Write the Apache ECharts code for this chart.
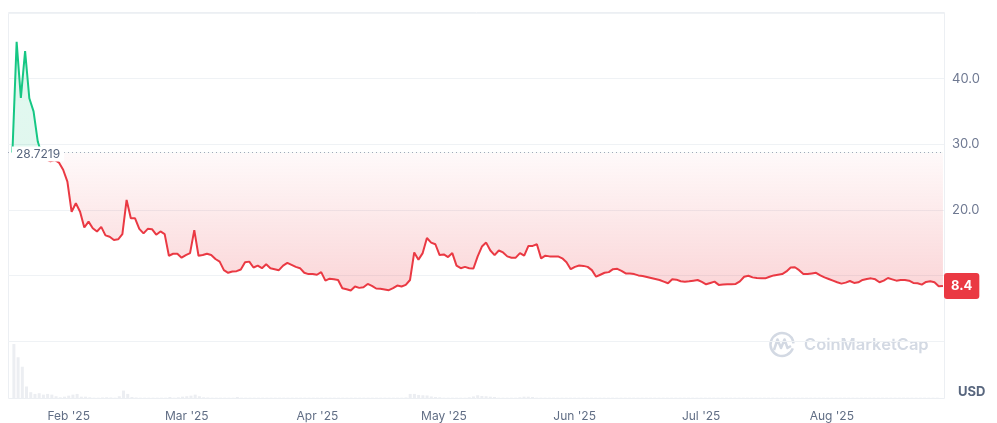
<!DOCTYPE html>
<html>
<head>
<meta charset="utf-8">
<script src="https://cdn.jsdelivr.net/npm/echarts@6/dist/echarts.min.js"></script>
<style>
html,body{margin:0;padding:0;background:#fff;}
#chart{width:997px;height:423px;}
</style>
</head>
<body>
<div id="chart"></div>
<script>
// ---- data (daily, starting 2025-01-19) ----
const startDate = [2025, 0, 19];
const baselinePrice = 28.7219;
const lastPrice = 8.4;
const priceValues = [
  28.72, 45.6, 37.05, 44.2, 37.0, 35.0, 30.4, 28.3, 27.7, 27.4, 27.6, 27.2, 26.1,
  24.3, 19.7, 21.0, 19.7, 17.3, 18.2, 17.2, 16.7, 17.4, 16.1, 15.9, 15.4, 15.5, 16.3,
  21.5, 18.7, 18.7, 17.1, 16.4, 17.1, 17.05, 16.2, 16.7, 16.3, 13.0, 13.3, 13.3, 12.7,
  13.1, 13.4, 16.9, 13.0, 13.1, 13.3, 13.1, 12.5, 12.1, 10.8, 10.4, 10.6, 10.65, 10.9,
  12.0, 12.1, 11.2, 11.5, 11.1, 11.7, 11.1, 10.95, 10.8, 11.5, 11.9, 11.6, 11.3, 11.1,
  10.4, 10.2, 10.2, 10.1, 10.5, 9.2, 9.5, 9.4, 9.3, 8.05, 7.9, 7.7, 8.3, 8.1, 8.2,
  8.7, 8.4, 8.0, 7.95, 7.85, 7.75, 8.05, 8.45, 8.3, 8.55, 9.3, 13.5, 12.4, 13.4,
  15.7, 15.0, 14.75, 13.1, 13.2, 12.8, 13.4, 11.5, 11.1, 11.3, 11.1, 11.05, 12.9, 14.4,
  15.0, 13.8, 13.1, 13.8, 13.5, 12.9, 12.7, 12.7, 13.4, 13.0, 14.5, 14.5, 14.75, 12.6,
  13.0, 12.9, 12.9, 12.9, 12.6, 12.0, 10.95, 11.3, 11.5, 11.45, 11.3, 10.8, 9.8, 10.1,
  10.4, 10.5, 10.95, 11.0, 10.7, 10.3, 10.3, 10.2, 10.0, 9.9, 9.75, 9.6, 9.45, 9.3,
  9.05, 8.8, 9.4, 9.35, 9.1, 9.05, 9.1, 9.2, 9.3, 9.0, 8.65, 8.85, 9.05, 8.55,
  8.6, 8.65, 8.65, 8.7, 9.1, 9.8, 9.95, 9.7, 9.6, 9.55, 9.55, 9.8, 10.0, 10.1,
  10.2, 10.6, 11.2, 11.25, 10.8, 10.2, 10.2, 10.3, 10.4, 10.0, 9.7, 9.45, 9.2, 8.95,
  8.75, 8.9, 9.15, 8.85, 8.95, 9.3, 9.45, 9.55, 9.4, 8.95, 9.2, 9.6, 9.4, 9.2,
  9.3, 9.3, 9.2, 8.85, 8.8, 8.6, 9.0, 9.1, 8.95, 8.35, 8.4
];
const volumeValues = [
  53, 40, 30.7, 11.3, 5.7, 4, 4.7, 3.3, 4, 3.3, 1.7, 0.7, 1.3,
  2.3, 3.3, 4, 1.3, 1.3, 0.7, 0.3, 0.3, 0.5, 0.7, 0.5, 0.3, 1.7, 7.3,
  4, 1.0, 0.5, 0.3, 0.3, 0.3, 0.3, 0.3, 0.3, 0.3, 1.0, 0.3, 0.7, 1.3,
  1.7, 2.3, 3.3, 1.7, 0.7, 0.5, 0.3, 0.3, 0.3, 0.3, 0.3, 0.3, 1.0, 0.3,
  0.3, 0.3, 0.3, 0.3, 0.3, 0.3, 0.3, 0.3, 0.3, 0.3, 0.3, 0.3, 0.3, 0.3,
  0.3, 0.3, 0.3, 0.3, 0.3, 0.3, 0.3, 0.3, 0.3, 0.3, 0.3, 0.3, 0.3, 0.3, 0.3,
  0.3, 0.3, 0.3, 0.3, 0.3, 0.3, 0.3, 0.3, 0.3, 0.5, 4, 4, 3,
  2.7, 2.5, 1.5, 1, 0.7, 0.3, 0.3, 0.3, 0.3, 0.3, 0.3, 0.7, 1.5, 2.7,
  2.0, 1.7, 1.3, 1.0, 0.3, 0.3, 0.3, 0.3, 0.3, 0.7, 1.3, 1.3, 1.0, 0.3,
  0.3, 0.3, 0.3, 0.3, 0.3, 0.3, 0.3, 0.3, 0.3, 0.3, 0.3, 0.3, 0.3, 0.3,
  0.3, 0.3, 0.3, 0.3, 0.3, 0.3, 0.3, 0.3, 0.3, 0.3, 0.3, 0.3, 0.3, 0.3,
  0.3, 0.3, 0.3, 0.3, 0.3, 0.3, 0.3, 0.3, 0.3, 0.3, 0.3, 0.3, 0.3, 0.3,
  0.3, 0.3, 0.3, 0.3, 0.3, 0.3, 0.3, 0.3, 0.3, 0.3, 0.3, 0.3, 0.3, 0.3,
  0.3, 0.3, 0.3, 0.3, 0.3, 0.3, 0.3, 0.3, 0.3, 0.3, 0.3, 0.3, 0.3, 0.3,
  0.3, 0.3, 0.3, 0.3, 0.3, 0.3, 0.3, 0.3, 0.3, 0.3, 0.3, 0.3, 0.3, 0.3,
  0.3, 0.3, 0.3, 0.3, 0.3, 0.3, 0.3, 0.3, 0.3, 0.3, 0.3
];
const monthNames = ['Jan','Feb','Mar','Apr','May','Jun','Jul','Aug','Sep','Oct','Nov','Dec'];
const yTickLabels = [20, 30, 40];

// ---- build ----
const dates = priceValues.map((_, i) => new Date(startDate[0], startDate[1], startDate[2] + i).getTime());
const priceData = priceValues.map((v, i) => [dates[i], v]);
const volumeData = volumeValues.map((v, i) => [dates[i], v]);

const axisMin = new Date(2025, 0, 17, 23, 0).getTime();
const axisMax = new Date(2025, 7, 27, 6, 0).getTime();

const GREEN = '#16c784', RED = '#ea3943';
const yMax = 50, gridTop = 13, gridH = 328;
const baseOff = 1 - baselinePrice / yMax;

const chart = echarts.init(document.getElementById('chart'), null, {renderer: 'canvas'});
chart.setOption({
  animation: false,
  textStyle: {fontFamily: 'Inter'},
  grid: [
    {left: 8, right: 53, top: gridTop, height: gridH},
    {left: 8, right: 53, top: 343, height: 55}
  ],
  xAxis: [
    {type: 'time', gridIndex: 0, min: axisMin, max: axisMax, show: false},
    {type: 'time', gridIndex: 1, min: axisMin, max: axisMax, splitNumber: 8,
     axisLine: {show: false}, axisTick: {show: false}, splitLine: {show: false},
     axisLabel: {
       color: '#616e85', fontSize: 12, margin: 12, fontFamily: 'Inter',
       showMinLabel: false, showMaxLabel: false,
       formatter: function (val) {
         const d = new Date(val);
         if (d.getDate() === 1 && d.getHours() === 0) {
           return monthNames[d.getMonth()] + " '" + String(d.getFullYear()).slice(2);
         }
         return '';
       }
     }}
  ],
  yAxis: [
    {type: 'value', gridIndex: 0, position: 'right', min: 0, max: yMax, interval: 10,
     axisLine: {show: false}, axisTick: {show: false},
     splitLine: {lineStyle: {color: '#eff2f5', width: 1}},
     axisLabel: {color: '#6e7891', fontSize: 13, margin: 8, fontFamily: 'Inter',
       formatter: v => yTickLabels.indexOf(v) >= 0 ? v.toFixed(1) : ''}},
    {type: 'value', gridIndex: 1, min: 0, max: 54, show: false}
  ],
  visualMap: {
    show: false, type: 'piecewise', seriesIndex: 0, dimension: 1,
    pieces: [{gte: 0, lte: baselinePrice, color: RED}, {gt: baselinePrice, lte: 1000, color: GREEN}]
  },
  series: [
    {
      type: 'line', xAxisIndex: 0, yAxisIndex: 0, data: priceData,
      showSymbol: false, symbol: 'none', lineStyle: {width: 2}, z: 3,
      areaStyle: {
        origin: baselinePrice,
        color: new echarts.graphic.LinearGradient(0, gridTop, 0, gridTop + gridH, [
          {offset: 0, color: 'rgba(22,199,132,0.20)'},
          {offset: baseOff - 0.0005, color: 'rgba(22,199,132,0.18)'},
          {offset: baseOff + 0.0005, color: 'rgba(234,57,67,0.04)'},
          {offset: 0.85, color: 'rgba(234,57,67,0.30)'},
          {offset: 1, color: 'rgba(234,57,67,0.36)'}
        ], true)
      },
      markLine: {
        silent: true, symbol: 'none', animation: false,
        data: [
          {yAxis: baselinePrice,
           lineStyle: {type: [1, 3], color: '#a1a9ba', width: 1},
           label: {show: true, position: 'insideStartTop', distance: 4, offset: [0, 13],
                   formatter: () => String(baselinePrice), backgroundColor: '#ffffff',
                   padding: [2, 4, 1, 4], color: '#58667e', fontSize: 12, fontFamily: 'Inter'}},
          {yAxis: lastPrice,
           lineStyle: {color: 'rgba(0,0,0,0)', width: 0},
           label: {show: true, position: 'end', distance: 0,
                   formatter: () => lastPrice.toFixed(1), backgroundColor: RED, borderRadius: 3,
                   padding: [7, 7, 6, 7], color: '#ffffff', fontWeight: 'bold', fontSize: 13,
                   fontFamily: 'Inter'}}
        ]
      }
    },
    {
      type: 'bar', xAxisIndex: 1, yAxisIndex: 1, data: volumeData,
      barWidth: 3, itemStyle: {color: '#eceef2'}, silent: true
    }
  ],
  graphic: [
    {type: 'rect', z: 0, silent: true,
     shape: {x: 8.5, y: 12.5, width: 936, height: 386},
     style: {fill: 'none', stroke: '#eceff3', lineWidth: 1}},
    {type: 'text', left: 958, top: 386, silent: true,
     style: {text: 'USD', font: 'bold 13px Inter', fill: '#58667e'}},
    {type: 'group', silent: true, z: 1, children: [
      {type: 'arc', shape: {cx: 782, cy: 344.5, r: 11.5, startAngle: 0.35, endAngle: Math.PI * 2 - 0.1},
       style: {fill: 'none', stroke: '#d3d9e3', lineWidth: 2.5}},
      {type: 'polyline', shape: {points: [[774, 350], [777.5, 339.5], [781, 348], [784.5, 339.5], [787.5, 348], [791, 346]]},
       style: {fill: 'none', stroke: '#d3d9e3', lineWidth: 2.5, lineJoin: 'round'}},
      {type: 'text', x: 804, y: 345,
       style: {text: 'CoinMarketCap', font: '600 16.5px Inter', fill: '#d3d9e3', textVerticalAlign: 'middle'}}
    ]}
  ]
});
</script>
</body>
</html>
